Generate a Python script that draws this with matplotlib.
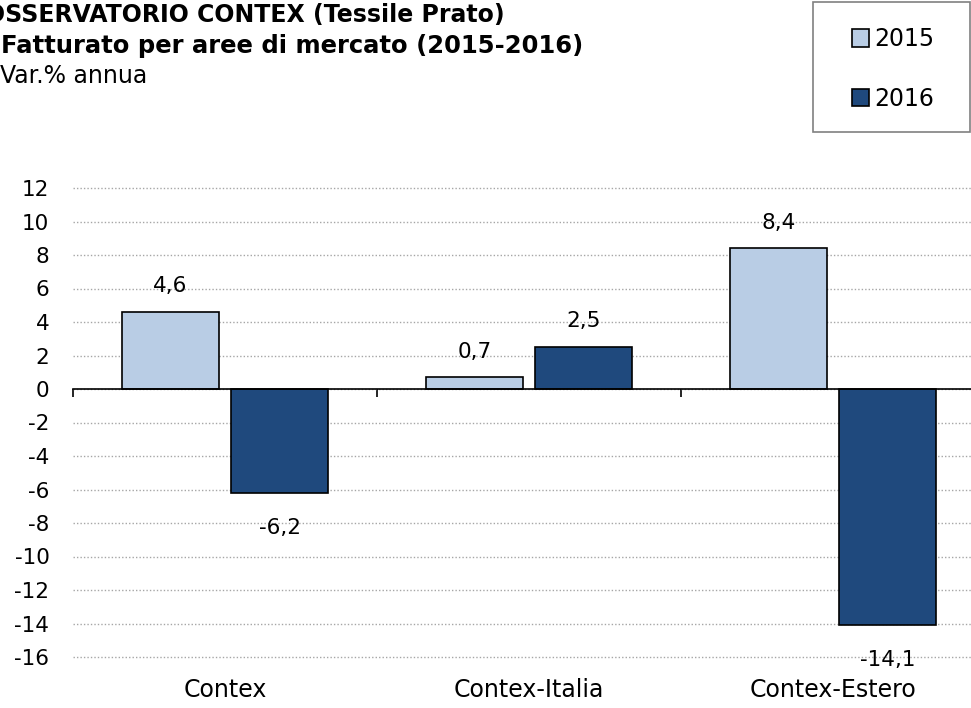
import numpy as np
import matplotlib
matplotlib.use('Agg')
import matplotlib.pyplot as plt
from matplotlib.patches import Rectangle

# Data
categories = ['Contex', 'Contex-Italia', 'Contex-Estero']
years = ['2015', '2016']
values_2015 = [4.6, 0.7, 8.4]
values_2016 = [-6.2, 2.5, -14.1]
y_ticks = list(range(-16, 13, 2))

color_2015 = '#B9CDE5'
color_2016 = '#1F497D'

plt.rcParams['font.family'] = ['DejaVu Sans']

fig = plt.figure(figsize=(9.71, 7.08), dpi=100)
ax = fig.add_axes([73 / 971, 1 - 657 / 708, 912 / 971, (657 - 188) / 708])

x = np.arange(len(categories))
width = 0.32
offset = 0.18

bars_2015 = ax.bar(x - offset, values_2015, width, color=color_2015, edgecolor='black',
                   linewidth=1.2, label=years[0], zorder=3)
bars_2016 = ax.bar(x + offset, values_2016, width, color=color_2016, edgecolor='black',
                   linewidth=1.2, label=years[1], zorder=3)

# Value labels with decimal comma
for bars in (bars_2015, bars_2016):
    for b in bars:
        v = b.get_height()
        txt = f'{v:.1f}'.replace('.', ',')
        dy = 18.5 if v >= 0 else -25
        ax.annotate(txt, (b.get_x() + b.get_width() / 2, v), xytext=(0, dy),
                    textcoords='offset points', ha='center', va='center', fontsize=15.5)

ax.set_xlim(-0.5, len(categories) - 0.5)
ax.set_ylim(-16, 12)
ax.set_yticks(y_ticks)
ax.set_yticklabels([str(t) for t in y_ticks], fontsize=15.5)
ax.tick_params(axis='y', length=0, pad=17)
ax.yaxis.grid(True, color='#A6A6A6', linestyle=(0, (1, 1.5)), linewidth=1.0, zorder=0)
for gl in ax.yaxis.get_gridlines():
    gl.set_clip_on(False)

# Zero line with category separator ticks
for s in ['top', 'right', 'left']:
    ax.spines[s].set_visible(False)
ax.spines['bottom'].set_position(('data', 0))
ax.spines['bottom'].set_linewidth(1.2)
ax.spines['bottom'].set_zorder(4)
ax.set_xticks(np.arange(len(categories) + 1) - 0.5)
ax.set_xticklabels([])
ax.tick_params(axis='x', direction='out', length=6, width=1.2)

# Category labels below the plot
for i, cat in enumerate(categories):
    ax.annotate(cat, xy=(i, 0), xycoords=ax.get_xaxis_transform(), xytext=(0, -24),
                textcoords='offset points', ha='center', va='center', fontsize=17)

# Titles (left side is cut off in the original)
fig.text(505 / 971, 1 - 15 / 708, 'OSSERVATORIO CONTEX (Tessile Prato)', ha='right', va='center',
         fontsize=17, fontweight='bold')
fig.text(583 / 971, 1 - 46 / 708, 'Fatturato per aree di mercato (2015-2016)', ha='right', va='center',
         fontsize=17.5, fontweight='bold')
fig.text(147 / 971, 1 - 76 / 708, 'Var.% annua', ha='right', va='center', fontsize=17)

# Legend box
box = Rectangle((813 / 971, 1 - 132 / 708), 157 / 971, 130 / 708, transform=fig.transFigure,
                facecolor='white', edgecolor='#808080', linewidth=1.2)
fig.patches.append(box)
leg = fig.legend(loc='center', bbox_to_anchor=(893 / 971, 1 - 69 / 708), fontsize=17,
                 frameon=False, handlelength=0.75, handleheight=0.75, handletextpad=0.2,
                 labelspacing=1.5, borderpad=0, borderaxespad=0)
for h in leg.legend_handles:
    h.set_linewidth(1.2)

fig.savefig('out.png', dpi=100)
